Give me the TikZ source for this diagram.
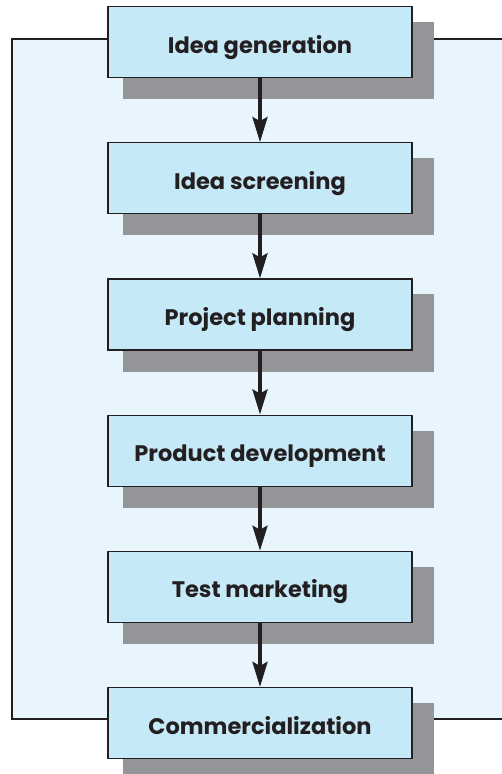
\documentclass[tikz,border=0pt]{standalone}
\usepackage{fontspec}
\setmainfont{Poppins}
\usetikzlibrary{positioning,arrows.meta,backgrounds}
\definecolor{stagefill}{HTML}{C6E9F8}
\definecolor{panelfill}{HTML}{E8F5FC}
\definecolor{shadegray}{HTML}{939598}
\definecolor{inkline}{HTML}{231F20}
\begin{document}
\begin{tikzpicture}[x=1pt,y=-1pt,
	stage/.style={rectangle,draw=inkline,line width=1.2pt,fill=stagefill,
	minimum width=304pt,minimum height=71pt,inner sep=0pt,
	text height=22pt,text depth=0pt,
	font=\fontsize{22.5}{26}\selectfont\bfseries,text=inkline},
	flow/.style={draw=inkline,line width=3.5pt,
	-{Stealth[length=25pt,width=15pt,inset=4pt]}},
	node distance=64pt]
\useasboundingbox (0,0) rectangle (501,774);
\node[stage] (gen) at (260,42) {Idea generation};
\node[stage,below=of gen] (scr) {Idea screening};
\node[stage,below=of scr] (plan) {Project planning};
\node[stage,below=of plan] (dev) {Product development};
\node[stage,below=of dev] (test) {Test marketing};
\node[stage,below=of test] (comm) {Commercialization};
\begin{scope}[on background layer]
	\draw[fill=panelfill,draw=inkline,line width=1.2pt] (12,39) rectangle (520,719);
	\foreach \s in {gen,scr,plan,dev,test,comm}
		\fill[shadegray] ([shift={(16,16)}]\s.north west) rectangle ([shift={(21,21)}]\s.south east);
\end{scope}
\draw[flow] (gen) -- (scr);
\draw[flow] (scr) -- (plan);
\draw[flow] (plan) -- (dev);
\draw[flow] (dev) -- (test);
\draw[flow] (test) -- (comm);
\end{tikzpicture}
\end{document}
